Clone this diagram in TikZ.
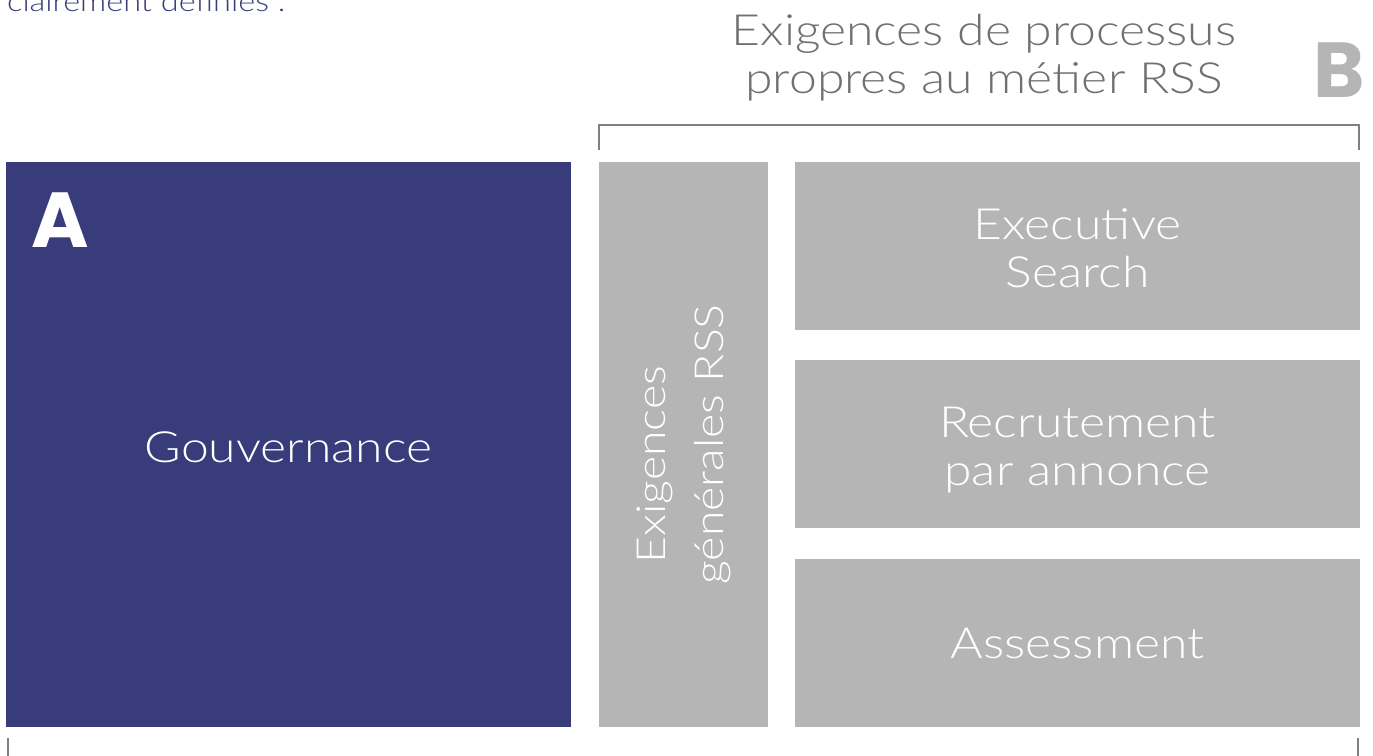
\documentclass[tikz,border=0pt]{standalone}
\usepackage{fontspec}
\setmainfont{Lato}[UprightFont=* Light,FakeStretch=1.16]
\newfontfamily\heavyfont{Poppins}[UprightFont=* Bold]
\definecolor{navy}{HTML}{393C7A}
\definecolor{boxgray}{HTML}{B5B5B5}
\definecolor{titlegray}{HTML}{707070}
\definecolor{rulegray}{HTML}{808080}
\begin{document}
\begin{tikzpicture}[x=1pt,y=-1pt,
  blk/.style={inner sep=0pt,outer sep=0pt,draw=none},
  lbl/.style={inner sep=0pt,align=center,text=white,font=\fontsize{43}{48}\selectfont},
  letter/.style={inner sep=0pt,anchor=base west,font=\heavyfont\fontsize{78}{78}\selectfont},
  bracket/.style={draw=rulegray,line width=2pt}]
\useasboundingbox (0,0) rectangle (1373,755);
% top-left cut text
\node[anchor=base west,inner sep=0pt,text=navy,font=\fontsize{28}{28}\selectfont] (intro) at (7,11) {clairement définies .};
% title
\node[inner sep=0pt,align=center,text=titlegray,font=\fontsize{43}{48}\selectfont,anchor=base] (title) at (984,93) {Exigences de processus\\propres au métier RSS};
\node[letter,text=boxgray] (B) at (1313,97) {B};
% boxes
\node[blk,fill=navy,minimum width=565,minimum height=565] (gov) at (288.5,444.5) {};
\node[lbl,yshift=-3pt] (govtxt) at (gov.center) {Gouvernance};
\node[blk,fill=boxgray,minimum width=169,minimum height=565] (gen) at (683.5,444.5) {};
\node[inner sep=0pt,rotate=90,align=center,text=white,font=\fontsize{40}{58}\selectfont] (gentxt) at (gen.center) {Exigences\hspace*{40pt}\\générales RSS};
\node[blk,fill=boxgray,minimum width=565,minimum height=168] (exec) at (1077.5,246) {};
\node[lbl,yshift=-2pt] (exectxt) at (exec.center) {Executive\\Search};
\node[blk,fill=boxgray,minimum width=565,minimum height=168] (recr) at (1077.5,444) {};
\node[lbl,yshift=-6pt] (recrtxt) at (recr.center) {Recrutement\\par annonce};
\node[blk,fill=boxgray,minimum width=565,minimum height=168] (assess) at (1077.5,643) {};
\node[lbl] (assesstxt) at (assess.center) {Assessment};
\node[letter,text=white] (A) at (31,247) {A};
% brackets
\coordinate (tl) at (599,150);
\coordinate (tr) at (1359,150);
\draw[bracket] (tl) -- (599,125) -- (1359,125) -- (tr);
\coordinate (bl) at (8,738);
\coordinate (br) at (1358,738);
\draw[bracket] (bl) -- (8,770);
\draw[bracket] (br) -- (1358,770);
\end{tikzpicture}
\end{document}
